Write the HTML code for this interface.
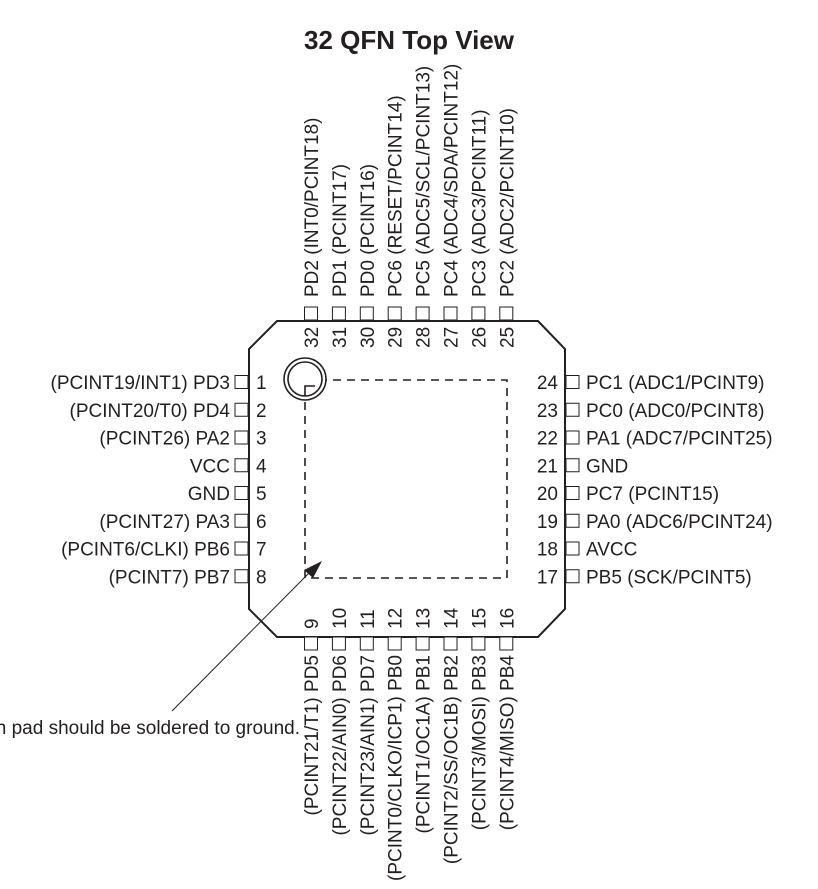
<!DOCTYPE html>
<html><head><meta charset="utf-8"><style>
html,body{margin:0;padding:0;background:#fff;}
svg{display:block;}
text{font-family:"Liberation Sans",Arial,sans-serif;fill:#231f20;}
</style></head><body>
<svg width="818" height="889" viewBox="0 0 818 889" xmlns="http://www.w3.org/2000/svg">
<text x="409" y="49" font-size="26" font-weight="bold" text-anchor="middle">32 QFN Top View</text>
<polygon points="277,321 538,321 565,349 565,609 538,637 277,637 249,609 249,349" fill="none" stroke="#231f20" stroke-width="2"/>
<rect x="305" y="380" width="202" height="198" fill="none" stroke="#231f20" stroke-width="1.6" stroke-dasharray="8,6"/>
<circle cx="305" cy="379" r="21" fill="#fff" stroke="#231f20" stroke-width="1.6"/>
<circle cx="305" cy="379" r="17" fill="none" stroke="#231f20" stroke-width="1.6"/>
<path d="M305,396 V386 H315" fill="none" stroke="#231f20" stroke-width="1.6"/>
<line x1="172" y1="711" x2="312" y2="570" stroke="#231f20" stroke-width="1"/>
<polygon points="322,561 304,570 313,578" fill="#231f20"/>
<text x="300" y="734" font-size="19" text-anchor="end">n pad should be soldered to ground.</text>
<g id="pins" stroke="#231f20" stroke-width="1" fill="#fff"></g>
<g id="labels" font-size="19"></g>
</svg>
<script>
var ns="http://www.w3.org/2000/svg";
var P=document.getElementById('pins'),L=document.getElementById('labels');
function r(x,y){var e=document.createElementNS(ns,'rect');e.setAttribute('x',x);e.setAttribute('y',y);e.setAttribute('width',13);e.setAttribute('height',13);P.appendChild(e);}
function t(s,x,y,a,rot){var e=document.createElementNS(ns,'text');e.textContent=s;e.setAttribute('text-anchor',a);
if(rot){e.setAttribute('transform','translate('+x+','+y+') rotate(-90)');}else{e.setAttribute('x',x);e.setAttribute('y',y);}L.appendChild(e);}
var leftL=["(PCINT19/INT1) PD3","(PCINT20/T0) PD4","(PCINT26) PA2","VCC","GND","(PCINT27) PA3","(PCINT6/CLKI) PB6","(PCINT7) PB7"];
var rightL=["PC1 (ADC1/PCINT9)","PC0 (ADC0/PCINT8)","PA1 (ADC7/PCINT25)","GND","PC7 (PCINT15)","PA0 (ADC6/PCINT24)","AVCC","PB5 (SCK/PCINT5)"];
var topL=["PD2 (INT0/PCINT18)","PD1 (PCINT17)","PD0 (PCINT16)","PC6 (RESET/PCINT14)","PC5 (ADC5/SCL/PCINT13)","PC4 (ADC4/SDA/PCINT12)","PC3 (ADC3/PCINT11)","PC2 (ADC2/PCINT10)"];
var botL=["(PCINT21/T1) PD5","(PCINT22/AIN0) PD6","(PCINT23/AIN1) PD7","(PCINT0/CLKO/ICP1) PB0","(PCINT1/OC1A) PB1","(PCINT2/SS/OC1B) PB2","(PCINT3/MOSI) PB3","(PCINT4/MISO) PB4"];
var pitch=27.75;
for(var i=0;i<8;i++){
 var cy=382+i*pitch;
 r(235,cy-6.5); t(leftL[i],230,cy+7,'end'); t(String(i+1),256,cy+7,'start');
 r(566,cy-6.5); t(rightL[i],586,cy+7,'start'); t(String(24-i),558,cy+7,'end');
 var cx=311+i*27.9;
 r(cx-6.5,307); t(topL[i],cx+7,297,'start',1); t(String(32-i),cx+7,348,'start',1);
 r(cx-6.5,637); t(botL[i],cx+7,655,'end',1); t(String(9+i),cx+7,629,'start',1);
}
</script>
</body></html>
